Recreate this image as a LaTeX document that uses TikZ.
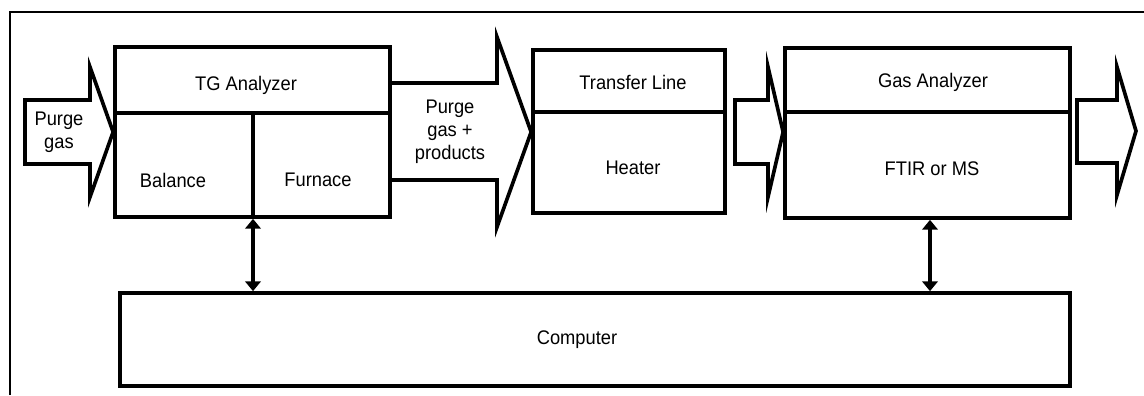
\documentclass[tikz,border=0pt]{standalone}
\usepackage{fontspec}
\setmainfont{Liberation Sans}[FakeStretch=0.93]
\usetikzlibrary{arrows.meta}

\begin{document}
\begin{tikzpicture}[x=0.025cm, y=-0.025cm,
  box/.style={rectangle, draw, line width=2.6pt, inner sep=0pt},
  lbl/.style={font=\fontsize{14}{16.5}\selectfont, align=center, inner sep=0pt},
  flow/.style={draw, line width=2.6pt, line join=miter},
  link/.style={line width=2.4pt, {Triangle[length=7pt,width=11pt]}-{Triangle[length=7pt,width=11pt]}}
]
  \useasboundingbox (0,0) rectangle (1144,395);
  \draw[line width=1.8pt] (10,395) -- (10,12) -- (1144,12);

  \node[box, minimum width=6.875cm, minimum height=4.25cm] (tg) at (252.5,132) {};
  \node[box, minimum width=4.8cm, minimum height=4.075cm] (tl) at (629,131.5) {};
  \node[box, minimum width=7.125cm, minimum height=4.25cm] (ga) at (927.5,133) {};
  \node[box, minimum width=23.75cm, minimum height=2.325cm] (comp) at (595,339.5) {};

  \coordinate (tgsplit) at (253,113);
  \coordinate (tlsplit) at (629,112);
  \coordinate (gasplit) at (930,112);

  \draw[line width=2.6pt] (tg.west |- tgsplit) -- (tg.east |- tgsplit);
  \draw[line width=2.6pt] (tgsplit) -- (tgsplit |- tg.south);
  \draw[line width=2.6pt] (tl.west |- tlsplit) -- (tl.east |- tlsplit);
  \draw[line width=2.6pt] (ga.west |- gasplit) -- (ga.east |- gasplit);

  \node[lbl] (tgname) at (246,85) {TG Analyzer};
  \node[lbl] (balance) at (173,180) {Balance};
  \node[lbl] (furnace) at (318,180) {Furnace};
  \node[lbl] (tlname) at (633,82) {Transfer Line};
  \node[lbl] (heater) at (633,168) {Heater};
  \node[lbl] (ganame) at (933,82) {Gas Analyzer};
  \node[lbl] (ftir) at (932,169) {FTIR or MS};
  \node[lbl] (compname) at (577,340) {Computer};

  \draw[flow] (25,100) -- (90,100) -- (90,67) -- (tg.west |- 0,132) -- (90,197) -- (90,164) -- (25,164) -- cycle;
  \draw[flow] (tg.east |- 0,83) -- (497,83) -- (497,37) -- (tl.west |- 0,132) -- (497,227) -- (497,180) -- (tg.east |- 0,180);
  \draw[flow] (735,100) -- (768,100) -- (768,67) -- (ga.west |- 0,132) -- (768,197) -- (768,164) -- (735,164) -- cycle;
  \draw[flow] (1077,100) -- (1117,100) -- (1117,67) -- (1136,131) -- (1117,195) -- (1117,163) -- (1077,163) -- cycle;

  \node[lbl] (purge) at (59,132) {Purge\\gas};
  \node[lbl] (products) at (450,132) {Purge\\gas +\\products};

  \draw[link] (tgsplit |- tg.south) -- (tgsplit |- comp.north);
  \draw[link] (gasplit |- ga.south) -- (gasplit |- comp.north);
\end{tikzpicture}
\end{document}
